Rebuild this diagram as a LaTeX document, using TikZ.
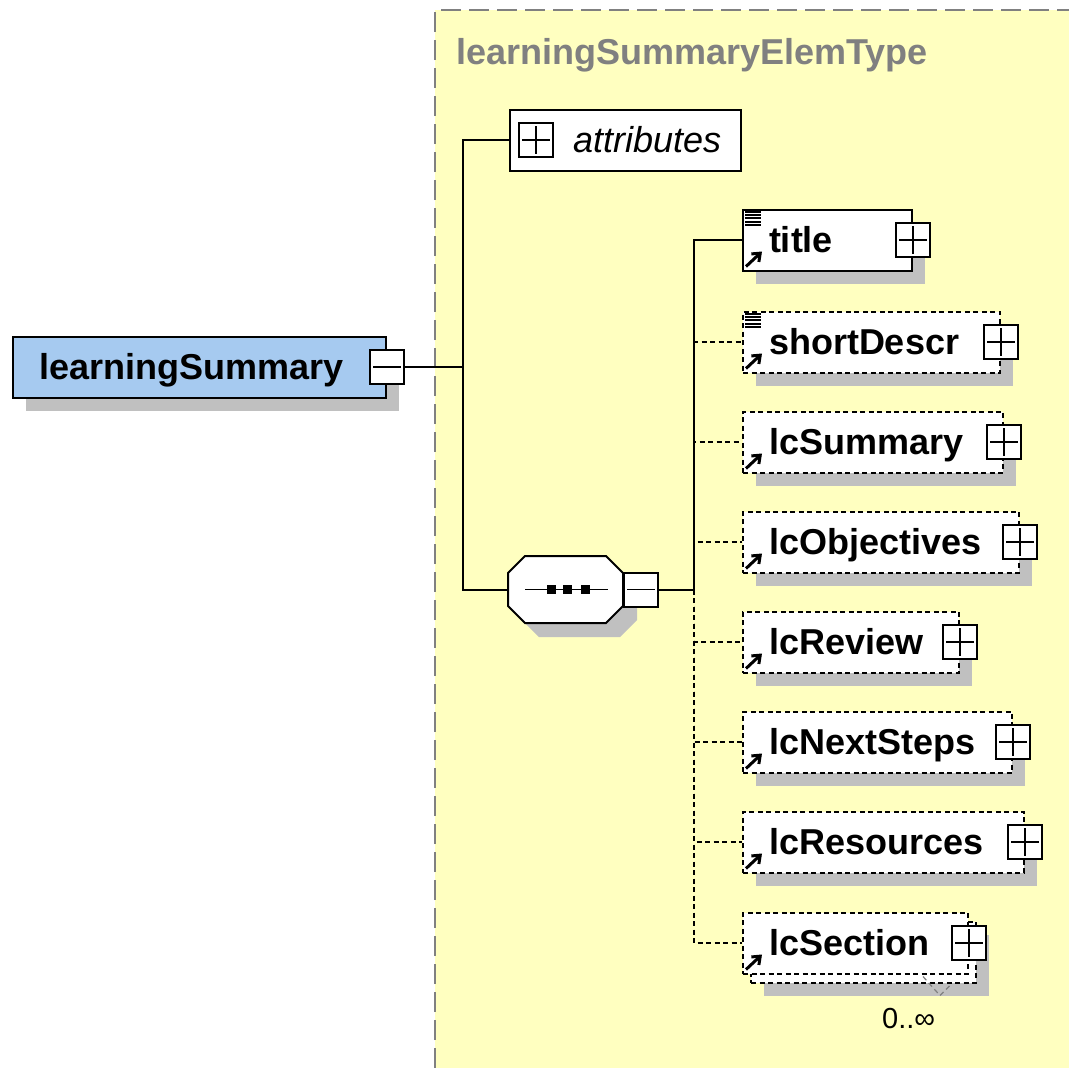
\documentclass[tikz,border=0pt]{standalone}
\usepackage{fontspec}
\setmainfont{Liberation Sans}
\usepackage{tikz}
\usetikzlibrary{positioning}
\usetikzlibrary{shadows}
\usetikzlibrary{arrows.meta}
\definecolor{typeyellow}{RGB}{255,255,192}
\definecolor{elemblue}{RGB}{166,202,240}
\definecolor{shadowgray}{RGB}{192,192,192}
\definecolor{typegray}{RGB}{128,128,128}
\tikzset{basic/.style={draw,line width=2pt,inner xsep=0pt,inner ysep=0pt,
                       minimum height=61pt,text height=28pt,text depth=3pt,
                       align=left,font=\fontsize{36}{40}\selectfont\bfseries}}
\tikzset{shadowed/.style={drop shadow={shadow xshift=13pt,shadow yshift=-13pt,
                          fill=shadowgray,opacity=1}}}
\tikzset{signbox/.style={draw,fill=white,line width=2pt,minimum size=34pt,inner sep=0pt}}
\tikzset{plusbox/.style={signbox,path picture={
    \draw[line width=1.4pt]
      ([xshift=3pt]path picture bounding box.west) -- ([xshift=-3pt]path picture bounding box.east)
      ([yshift=-3pt]path picture bounding box.north) -- ([yshift=3pt]path picture bounding box.south);}}}
\tikzset{minusbox/.style={signbox,path picture={
    \draw[line width=1.4pt]
      ([xshift=3pt]path picture bounding box.west) -- ([xshift=-3pt]path picture bounding box.east);}}}
\newcommand{\seqoutline}{(-40.5,-33.5) -- (40.5,-33.5) -- (57.5,-16.5) -- (57.5,16.5)
  -- (40.5,33.5) -- (-40.5,33.5) -- (-57.5,16.5) -- (-57.5,-16.5) -- cycle}

\begin{document}
\begin{tikzpicture}[x=1pt,y=-1pt]
    \tikzstyle{optional}=[dash pattern=on 5pt off 3.5pt]
    \tikzstyle{elem}=[basic,fill=white,anchor=west,shadowed]
    \tikzstyle{refarrow}=[-{Straight Barb[length=7pt,width=11pt]},line width=3pt]
    \tikzstyle{docline}=[line width=2pt]

    \useasboundingbox (0,0) rectangle (1069,1068);
    \fill[white] (0,0) rectangle (1069,1068);

    % Draw the complex type area
    \fill[typeyellow] (435,10) rectangle (1069,1068);
    \draw[typegray,line width=1.5pt,dash pattern=on 20pt off 8pt] (435,1068) -- (435,10) -- (1069,10);
    \node[anchor=base west,inner sep=0pt,text=typegray,
          font=\fontsize{36}{40}\selectfont\bfseries] (typename) at (456,64) {learningSummaryElemType};

    % Draw the root element
    \node[basic,fill=elemblue,shadowed,anchor=west,text width=373pt] (ls) at (12,367)
        {\hspace*{26pt}learningSummary};
    \node[minusbox] (ls-minus) at (ls.east) {};

    % Draw the attributes box
    \node[basic,fill=white,anchor=west,text width=231pt,
          font=\fontsize{36}{40}\selectfont\itshape] (attr) at (509,140) {\hspace*{63pt}attributes};
    \node[plusbox,right=9pt of attr.west] (attr-plus) {};

    % Draw the sequence compositor
    \node[minimum width=115pt,minimum height=67pt,inner sep=0pt] (seq) at (565.5,589.5) {};
    \begin{scope}[shift={(seq.center)}]
        \fill[shadowgray,shift={(14,14)}] \seqoutline;
        \draw[fill=white,line width=2pt] \seqoutline;
        \draw[line width=1.6pt] (-40.5,0) -- (42.5,0);
        \foreach \dx in {-14.5,2,19.5}
            \fill (\dx-4.5,-4.5) rectangle (\dx+4.5,4.5);
    \end{scope}
    \node[minusbox,right=0pt of seq] (seq-minus) {};

    % Draw the child elements
    \foreach \name/\y/\r/\kind in {title/240/911/solid,shortDescr/342/999/optional,
        lcSummary/442/1002/optional,lcObjectives/542/1018/optional,
        lcReview/642/958/optional,lcNextSteps/742/1011/optional,
        lcResources/842/1023/optional}
    {
        \pgfmathsetmacro\w{\r-742}
        \node[elem,\kind,text width=\w pt] (el-\name) at (742,\y) {\hspace*{26pt}\name};
        \node[plusbox] (el-\name-plus) at (el-\name.east) {};
    }

    % lcSection may occur several times
    \node[elem,optional,text width=225pt] (el-lcSection-back) at (750,952) {};
    \node[basic,fill=white,anchor=west,optional,text width=225pt] (el-lcSection) at (742,943)
        {\hspace*{26pt}lcSection};
    \node[plusbox] (el-lcSection-plus) at (el-lcSection.east) {};
    \draw[optional,gray,line width=1.2pt] ([xshift=-54pt,yshift=7pt]el-lcSection-back.south east)
        -- ++(17,19) -- ++(12,-12);
    \node[anchor=base west,inner sep=0pt,font=\fontsize{29}{30}\selectfont] (el-lcSection-occurs)
        at (882,1028) {0..∞};

    % Documentation and reference icons
    \foreach \name in {title,shortDescr}
        \foreach \k in {0,...,4}
            \draw[docline] ([xshift=3pt,yshift={-3.5pt-3.2pt*\k}]el-\name.north west) -- ++(16,0);
    \foreach \name in {title,shortDescr,lcSummary,lcObjectives,lcReview,lcNextSteps,lcResources,lcSection}
        \draw[refarrow] ([xshift=4pt,yshift=5pt]el-\name.south west) -- ++(16,-15);

    % Connect the root element with the attributes and the sequence
    \coordinate (j1) at ([xshift=58pt]ls-minus.east);
    \draw[line width=2pt] (ls-minus.east) -- (j1) |- (attr.west);
    \draw[line width=2pt] (j1) |- (seq.west);

    % Connect the sequence with every child element
    \coordinate (j2) at ([xshift=35pt]seq-minus.east);
    \draw[line width=2pt] (seq-minus.east) -- (j2) |- (el-title.west);
    \foreach \name in {shortDescr,lcSummary,lcObjectives,lcReview,lcNextSteps,lcResources,lcSection}
        \draw[line width=2pt,optional] (j2) |- (el-\name.west);
\end{tikzpicture}
\end{document}
